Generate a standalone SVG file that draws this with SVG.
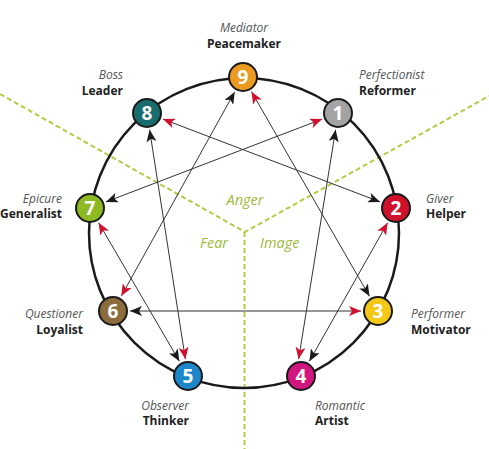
<svg xmlns="http://www.w3.org/2000/svg" width="489" height="449" viewBox="0 0 489 449">
<style>
.it{font-family:"Open Sans","Noto Sans",sans-serif;font-style:italic;font-size:12px;fill:#555}
.bd{font-family:"Open Sans","Noto Sans",sans-serif;font-weight:bold;font-size:12px;fill:#222}
.zone{font-family:"Open Sans","Noto Sans",sans-serif;font-style:italic;font-size:14.5px;fill:#9dbb3c}
.dash{fill:none;stroke:#b3cb45;stroke-width:2;stroke-dasharray:5 3}
.ring{fill:none;stroke:#1a1a1a;stroke-width:2.5}
.dot{stroke:#1a1a1a;stroke-width:2}
.num{font-family:"Open Sans","Noto Sans",sans-serif;font-weight:bold;font-size:19px;fill:#fff;text-anchor:middle}
.ln{stroke:#333;stroke-width:1;fill:none}
.rb{marker-start:url(#red);marker-end:url(#blk)}
.br{marker-start:url(#blk);marker-end:url(#red)}
</style>
<defs>
<marker id="blk" markerUnits="userSpaceOnUse" markerWidth="12" markerHeight="10" viewBox="0 0 12 10" refX="12" refY="5" orient="auto-start-reverse"><path d="M0,0 L12,5 L0,10 L3,5 Z" fill="#1a1a1a"/></marker>
<marker id="red" markerUnits="userSpaceOnUse" markerWidth="12" markerHeight="10" viewBox="0 0 12 10" refX="12" refY="5" orient="auto-start-reverse"><path d="M0,0 L12,5 L0,10 L3,5 Z" fill="#d0102c"/></marker>
</defs>
<rect width="489" height="449" fill="#fff"/>
<g id="zones">
<path class="dash" d="M0,94 L245,232 L489,96"/>
<path class="dash" d="M244.5,232 L244.5,449"/>
<text class="zone" x="245" y="205" text-anchor="middle">Anger</text>
<text class="zone" x="200" y="248">Fear</text>
<text class="zone" x="260" y="248">Image</text>
</g>
<circle class="ring" cx="244" cy="233" r="155"/>
<g id="connectors">
<line class="ln rb" x1="162.9" y1="119.1" x2="380.1" y2="201.9"/>
<line class="ln rb" x1="251.5" y1="91.7" x2="369.5" y2="296.3"/>
<line class="ln br" x1="234.7" y1="91.9" x2="121.3" y2="296.1"/>
<line class="ln rb" x1="361" y1="311" x2="130" y2="311"/>
<line class="ln br" x1="105.9" y1="201.9" x2="322.1" y2="119.1"/>
<line class="ln br" x1="335.6" y1="129.8" x2="298.6" y2="359.2"/>
<line class="ln rb" x1="387.6" y1="222.8" x2="309.4" y2="361.2"/>
<line class="ln br" x1="149.6" y1="129.8" x2="185.4" y2="359.2"/>
<line class="ln rb" x1="98.6" y1="222.7" x2="179.4" y2="361.3"/>
</g>
<g id="n9"><circle class="dot" cx="243" cy="77" r="14" fill="#eb9a22"/><text class="num" x="243" y="84">9</text>
<text class="it" x="244" y="32" text-anchor="middle">Mediator</text><text class="bd" x="244" y="48" text-anchor="middle">Peacemaker</text></g>
<g id="n1"><circle class="dot" cx="338" cy="113" r="14" fill="#a3a3a3"/><text class="num" x="338" y="120">1</text>
<text class="it" x="359" y="79">Perfectionist</text><text class="bd" x="359" y="95">Reformer</text></g>
<g id="n2"><circle class="dot" cx="396" cy="208" r="14" fill="#d0112b"/><text class="num" x="396" y="215">2</text>
<text class="it" x="426" y="203">Giver</text><text class="bd" x="426" y="218">Helper</text></g>
<g id="n3"><circle class="dot" cx="378" cy="311" r="14" fill="#f4c916"/><text class="num" x="378" y="318">3</text>
<text class="it" x="411" y="318">Performer</text><text class="bd" x="411" y="334">Motivator</text></g>
<g id="n4"><circle class="dot" cx="301" cy="376" r="14" fill="#d3157f"/><text class="num" x="301" y="383">4</text>
<text class="it" x="315" y="410">Romantic</text><text class="bd" x="315" y="425">Artist</text></g>
<g id="n5"><circle class="dot" cx="188" cy="376" r="14" fill="#1c87c9"/><text class="num" x="188" y="383">5</text>
<text class="it" x="189" y="410" text-anchor="end">Observer</text><text class="bd" x="189" y="425" text-anchor="end">Thinker</text></g>
<g id="n6"><circle class="dot" cx="113" cy="311" r="14" fill="#8c6b3c"/><text class="num" x="113" y="318">6</text>
<text class="it" x="83" y="318" text-anchor="end">Questioner</text><text class="bd" x="83" y="334" text-anchor="end">Loyalist</text></g>
<g id="n7"><circle class="dot" cx="90" cy="208" r="14" fill="#8db921"/><text class="num" x="90" y="215">7</text>
<text class="it" x="62" y="203" text-anchor="end">Epicure</text><text class="bd" x="62" y="218" text-anchor="end">Generalist</text></g>
<g id="n8"><circle class="dot" cx="147" cy="113" r="14" fill="#186c6e"/><text class="num" x="147" y="120">8</text>
<text class="it" x="123" y="79" text-anchor="end">Boss</text><text class="bd" x="123" y="95" text-anchor="end">Leader</text></g>
</svg>
